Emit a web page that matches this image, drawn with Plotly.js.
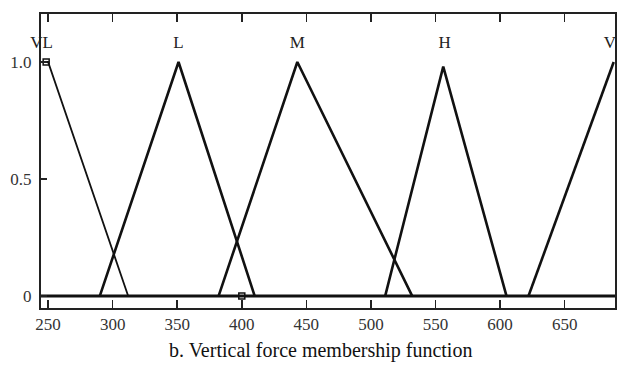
<!DOCTYPE html>
<html>
<head>
<meta charset="utf-8">
<script src="https://cdn.plot.ly/plotly-3.0.1.min.js"></script>
<style>html,body{margin:0;padding:0;background:#fff;}#chart{width:619px;height:365px;}</style>
</head>
<body>
<div id="chart"></div>
<script>
// Membership functions (x = vertical force, y = membership degree)
const vlX = [244.5, 250, 312];
const vlY = [1, 1, 0];
const lX = [290, 351, 410];
const lY = [0, 1, 0];
const mX = [382, 443, 532];
const mY = [0, 1, 0];
const hX = [511, 556, 605];
const hY = [0, 0.98, 0];
const vhX = [622, 688];
const vhY = [0, 1];
const baseX = [244.5, 689];
const baseY = [0, 0];
const markerX = [248.5, 400];
const markerY = [1, 0];
const labelText = ['VL', 'L', 'M', 'H', 'V'];
const labelX = [245, 351, 443, 557, 685];
const labelY = [1.08, 1.08, 1.08, 1.08, 1.08];
const xTicks = [250, 300, 350, 400, 450, 500, 550, 600, 650];
const yTicks = [0, 0.5, 1];
const yTickText = ['0', '0.5', '1.0'];
const caption = 'b. Vertical force membership function';

const font = 'Liberation Serif';
const line = (x, y, w) => ({x, y, type: 'scatter', mode: 'lines', line: {color: '#111', width: w}, hoverinfo: 'skip', cliponaxis: false});

const traces = [
  line(baseX, baseY, 3),
  line(vlX, vlY, 1.8),
  line(lX, lY, 2.6),
  line(mX, mY, 2.6),
  line(hX, hY, 2.6),
  line(vhX, vhY, 2.6),
  {x: markerX, y: markerY, type: 'scatter', mode: 'markers',
   marker: {symbol: 'square-open', size: 6, color: '#111', line: {width: 1.5, color: '#111'}}, hoverinfo: 'skip'},
  {x: labelX, y: labelY, text: labelText, type: 'scatter', mode: 'text',
   textfont: {family: font, size: 17, color: '#222'}, textposition: 'middle center', hoverinfo: 'skip', cliponaxis: false}
];

const layout = {
  width: 619, height: 365,
  margin: {l: 41, r: 4, t: 14, b: 57},
  paper_bgcolor: '#fff', plot_bgcolor: '#fff',
  showlegend: false,
  font: {family: font, size: 17, color: '#222'},
  xaxis: {
    range: [244.5, 689], tickvals: xTicks, ticktext: xTicks.map(String),
    ticks: 'inside', ticklen: 8, tickwidth: 1.5, tickcolor: '#222',
    showline: true, linecolor: '#222', linewidth: 2, mirror: 'allticks',
    showgrid: false, zeroline: false, tickfont: {family: font, size: 17, color: '#333'}
  },
  yaxis: {
    range: [-0.051, 1.205], tickvals: yTicks, ticktext: yTickText,
    ticks: 'inside', ticklen: 6, tickwidth: 1.5, tickcolor: '#222',
    showline: true, linecolor: '#222', linewidth: 2, mirror: true,
    ticklabelstandoff: 4,
    showgrid: false, zeroline: false, tickfont: {family: font, size: 17, color: '#333'}
  },
  annotations: [{
    text: caption, xref: 'paper', yref: 'paper', x: 0.487, y: -0.143,
    xanchor: 'center', yanchor: 'middle', showarrow: false,
    font: {family: font, size: 20, color: '#111'}
  }]
};

Plotly.newPlot('chart', traces, layout, {staticPlot: true, displayModeBar: false});
</script>
</body>
</html>
